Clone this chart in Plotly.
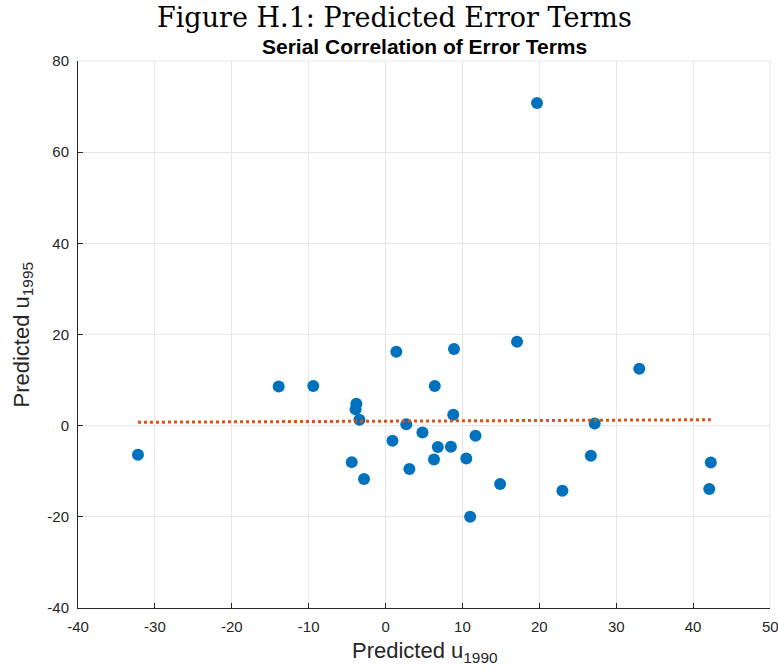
import plotly.graph_objects as go

# Predicted residuals for each unit in the two periods
u_1990 = [-32.2, -13.9, -9.4, -4.4, -3.8, -3.9, -3.4, -2.8, 0.9, 1.4, 2.7,
          3.1, 4.8, 6.3, 6.4, 6.8, 8.5, 8.8, 8.9, 10.5, 11.0, 11.7, 14.9,
          17.1, 19.7, 23.0, 26.7, 27.2, 33.0, 42.1, 42.3]
u_1995 = [-6.4, 8.6, 8.7, -8.0, 4.8, 3.6, 1.3, -11.7, -3.3, 16.2, 0.3,
          -9.5, -1.5, -7.4, 8.7, -4.7, -4.6, 2.4, 16.8, -7.2, -20.0, -2.2,
          -12.8, 18.4, 70.8, -14.3, -6.6, 0.5, 12.5, -13.9, -8.1]

# Least-squares fit line endpoints
fit_x = [-32.2, 42.3]
fit_y = [0.75, 1.3]

x_ticks = [-40, -30, -20, -10, 0, 10, 20, 30, 40, 50]
y_ticks = [-40, -20, 0, 20, 40, 60, 80]

TEXT = "#262626"
GRID = "#e6e6e6"
SANS = "Liberation Sans, Arial, Helvetica"
tick_font = dict(family=SANS, size=15, color=TEXT)

fig = go.Figure()
fig.add_trace(go.Scatter(
    x=u_1990, y=u_1995, mode="markers",
    marker=dict(color="#0072BD", size=12, line=dict(width=0)),
    showlegend=False, cliponaxis=False,
))
fig.add_trace(go.Scatter(
    x=fit_x, y=fit_y, mode="lines",
    line=dict(color="#D95319", width=3, dash="dot"),
    showlegend=False,
))

fig.update_layout(
    width=778, height=670,
    margin=dict(l=78, r=8, t=61, b=62),
    paper_bgcolor="white", plot_bgcolor="white",
    xaxis=dict(
        range=[-40, 50], tickvals=x_ticks, ticktext=[str(v) for v in x_ticks],
        showgrid=True, gridcolor=GRID, gridwidth=1, zeroline=False,
        showline=True, linecolor=TEXT, linewidth=1,
        ticks="inside", ticklen=5, tickcolor=TEXT, tickfont=tick_font,
        ticklabelstandoff=5,
    ),
    yaxis=dict(
        range=[-40, 80], tickvals=y_ticks, ticktext=[str(v) for v in y_ticks],
        showgrid=True, gridcolor=GRID, gridwidth=1, zeroline=False,
        showline=True, linecolor=TEXT, linewidth=1,
        ticks="inside", ticklen=5, tickcolor=TEXT, tickfont=tick_font,
        ticklabelstandoff=5,
    ),
    annotations=[
        dict(text="Figure H.1: Predicted Error Terms", xref="paper", yref="paper",
             x=(394 - 78) / 692, y=1, yshift=44, xanchor="center", yanchor="middle",
             showarrow=False,
             font=dict(family="DejaVu Serif, Liberation Serif, serif", size=27, color="black")),
        dict(text="<b>Serial Correlation of Error Terms</b>", xref="paper", yref="paper",
             x=0.5, y=1, yshift=15, xanchor="center", yanchor="middle", showarrow=False,
             font=dict(family=SANS, size=21, color="black")),
        # label for the last x tick, which sits on the right edge of the page
        dict(text=str(x_ticks[-1]), xref="x", yref="paper", x=x_ticks[-1], y=0,
             yshift=-18, xanchor="center", yanchor="middle", showarrow=False,
             font=tick_font),
        # axis titles
        dict(text="Predicted u<sub>1990</sub>", xref="paper", yref="paper",
             x=(350 - 78) / 692, y=0, yshift=-44, xanchor="left", yanchor="middle",
             showarrow=False, font=dict(family=SANS, size=22, color=TEXT)),
        dict(text="Predicted u<sub>1995</sub>", xref="paper", yref="paper",
             x=(22 - 78) / 692, y=0.5, xanchor="center", yanchor="middle",
             textangle=-90, showarrow=False, font=dict(family=SANS, size=22, color=TEXT)),
    ],
)

# Light frame on the top and right edges
fig.add_shape(type="line", xref="paper", yref="paper", x0=0, x1=1, y0=1, y1=1,
              line=dict(color=GRID, width=1))
fig.add_shape(type="line", xref="paper", yref="paper", x0=1, x1=1, y0=0, y1=1,
              line=dict(color=GRID, width=1))

fig.write_html("out.html")
